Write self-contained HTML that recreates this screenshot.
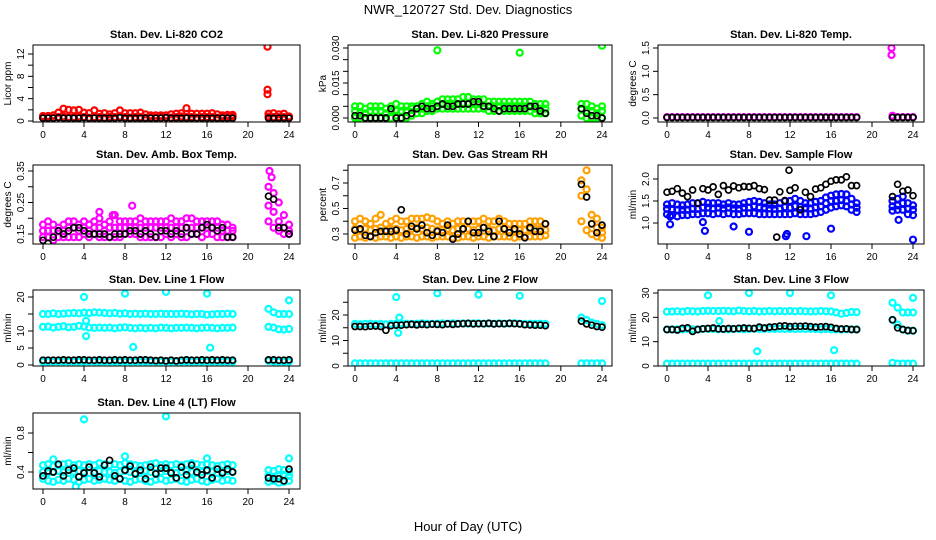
<!DOCTYPE html>
<html><head><meta charset="utf-8"><style>
html,body{margin:0;padding:0;background:#fff}
svg{display:block;font-family:"Liberation Sans",sans-serif}
</style></head><body>
<svg id="chart" width="936" height="540" viewBox="0 0 936 540" xmlns="http://www.w3.org/2000/svg">
<text x="468" y="14" font-size="13" text-anchor="middle">NWR_120727  Std. Dev. Diagnostics</text>
<text x="468" y="531" font-size="13" text-anchor="middle">Hour of Day (UTC)</text>
</svg>
<script>
const HRS=[0,0.5,1,1.5,2,2.5,3,3.5,4,4.5,5,5.5,6,6.5,7,7.5,8,8.5,9,9.5,10,10.5,11,11.5,12,12.5,13,13.5,14,14.5,15,15.5,16,16.5,17,17.5,18,18.5,22,22.5,23,23.5,24];
const xTicks=[0,4,8,12,16,20,24];
// P1 CO2
const co2Hi=[0.9,0.9,1.0,1.5,2.2,2.0,1.9,2.0,1.5,1.4,1.9,1.3,1.4,1.2,1.4,1.9,1.4,1.4,1.4,1.5,1.2,1.0,1.0,1.0,1.0,1.2,1.3,1.4,2.3,1.3,1.3,1.3,1.3,1.4,1.2,1.0,1.1,1.1,1.3,1.4,1.2,1.3,0.8];
const co2Lo=[0.6,0.7,0.6,0.7,0.8,0.7,0.7,0.8,0.7,0.6,0.7,0.7,0.6,0.7,0.7,0.8,0.7,0.6,0.7,0.7,0.6,0.7,0.6,0.7,0.6,0.6,0.7,0.8,0.7,0.7,0.6,0.7,0.7,0.7,0.6,0.7,0.7,0.8,0.8,0.7,0.7,0.7,0.6];
const co2Blk=[0.5,0.5,0.5,0.6,0.5,0.5,0.5,0.5,0.6,0.5,0.5,0.5,0.5,0.5,0.5,0.6,0.5,0.5,0.5,0.5,0.5,0.5,0.5,0.5,0.6,0.5,0.5,0.5,0.5,0.5,0.5,0.5,0.5,0.5,0.5,0.5,0.5,0.5,0.5,0.5,0.5,0.5,0.5];
const co2OutX=[21.9,21.9,21.9];const co2OutY=[13.3,5.6,4.8];
// P2 pressure
const prHi=[0.005,0.005,0.004,0.005,0.005,0.005,0.004,0.005,0.006,0.005,0.005,0.005,0.005,0.006,0.007,0.006,0.007,0.008,0.008,0.008,0.008,0.009,0.009,0.008,0.008,0.008,0.007,0.007,0.007,0.007,0.007,0.007,0.007,0.007,0.007,0.006,0.006,0.006,0.006,0.006,0.005,0.004,0.005];
const prMid=[0.003,0.002,0.002,0.003,0.003,0.003,0.002,0.003,0.003,0.003,0.003,0.004,0.004,0.004,0.005,0.005,0.005,0.006,0.006,0.006,0.006,0.006,0.006,0.006,0.006,0.005,0.005,0.005,0.005,0.005,0.005,0.005,0.005,0.005,0.005,0.004,0.004,0.004,0.004,0.003,0.003,0.002,0.003];
const prLo=[0.000,0.000,0.000,0.000,0.000,0.000,0.000,0.000,0.001,0.000,0.000,0.001,0.002,0.002,0.003,0.003,0.004,0.004,0.004,0.004,0.004,0.004,0.004,0.004,0.004,0.004,0.003,0.003,0.003,0.003,0.003,0.003,0.003,0.003,0.003,0.002,0.002,0.002,0.001,0.000,0.000,0.000,0.000];
const prBlk=[0.001,0.001,0.000,0.000,0.000,0.000,0.000,0.004,0.000,0.000,0.001,0.002,0.004,0.005,0.004,0.004,0.005,0.006,0.005,0.005,0.006,0.006,0.006,0.007,0.007,0.005,0.005,0.004,0.003,0.004,0.004,0.004,0.004,0.004,0.005,0.005,0.003,0.002,0.004,0.002,0.001,0.001,0.000];
const prOutX=[8,16,24];const prOutY=[0.029,0.028,0.031];
// P3 temp
const tmHi=[0.02,0.02,0.02,0.02,0.02,0.02,0.02,0.02,0.02,0.02,0.02,0.02,0.02,0.02,0.02,0.02,0.02,0.02,0.02,0.02,0.02,0.02,0.02,0.02,0.02,0.02,0.02,0.02,0.02,0.02,0.02,0.02,0.02,0.02,0.02,0.02,0.02,0.02,0.02,0.02,0.02,0.02,0.02];
const tmBlk=[0.01,0.01,0.01,0.01,0.01,0.01,0.01,0.01,0.01,0.01,0.01,0.01,0.01,0.01,0.01,0.01,0.01,0.01,0.01,0.01,0.01,0.01,0.01,0.01,0.01,0.01,0.01,0.01,0.01,0.01,0.01,0.01,0.01,0.01,0.01,0.01,0.01,0.01,0.01,0.01,0.01,0.01,0.01];
const tmOutX=[21.9,21.9,22];const tmOutY=[1.5,1.35,0.05];
// P4 box temp
const btHi=[0.18,0.19,0.18,0.17,0.18,0.19,0.19,0.18,0.19,0.18,0.19,0.20,0.18,0.19,0.21,0.19,0.19,0.19,0.19,0.20,0.19,0.19,0.19,0.19,0.19,0.20,0.19,0.19,0.20,0.20,0.19,0.19,0.19,0.19,0.19,0.18,0.18,0.17,0.30,0.28,0.25,0.21,0.18];
const btMid=[0.16,0.16,0.16,0.16,0.16,0.17,0.17,0.16,0.17,0.16,0.17,0.17,0.16,0.17,0.17,0.17,0.17,0.17,0.17,0.17,0.17,0.17,0.17,0.17,0.17,0.17,0.17,0.17,0.17,0.17,0.17,0.17,0.17,0.17,0.17,0.16,0.16,0.16,0.24,0.22,0.19,0.17,0.16];
const btLo=[0.14,0.14,0.13,0.14,0.14,0.14,0.14,0.14,0.15,0.14,0.15,0.14,0.14,0.14,0.14,0.14,0.15,0.15,0.15,0.14,0.14,0.14,0.14,0.14,0.15,0.14,0.15,0.14,0.14,0.15,0.15,0.14,0.15,0.15,0.14,0.14,0.14,0.14,0.19,0.17,0.16,0.15,0.15];
const btBlk=[0.13,0.12,0.14,0.16,0.15,0.16,0.17,0.17,0.16,0.15,0.15,0.15,0.15,0.14,0.15,0.15,0.15,0.16,0.16,0.15,0.16,0.15,0.14,0.16,0.16,0.15,0.16,0.15,0.17,0.15,0.15,0.17,0.18,0.17,0.16,0.17,0.14,0.14,0.27,0.26,0.17,0.17,0.15];
const btOutX=[22.1,22.3,5.5,8.7,6.8];const btOutY=[0.35,0.33,0.22,0.24,0.21];
// P5 RH
const rhHi=[0.40,0.42,0.40,0.38,0.42,0.45,0.38,0.40,0.42,0.40,0.40,0.42,0.42,0.42,0.43,0.42,0.40,0.38,0.40,0.38,0.40,0.40,0.40,0.40,0.40,0.42,0.40,0.40,0.42,0.40,0.38,0.38,0.38,0.38,0.40,0.40,0.40,0.38,0.72,0.80,0.45,0.42,0.35];
const rhMid=[0.34,0.33,0.34,0.33,0.34,0.35,0.33,0.34,0.34,0.33,0.34,0.34,0.35,0.34,0.35,0.34,0.33,0.33,0.34,0.33,0.34,0.34,0.34,0.33,0.34,0.35,0.34,0.33,0.34,0.34,0.33,0.33,0.33,0.33,0.34,0.34,0.34,0.33,0.60,0.65,0.38,0.35,0.31];
const rhLo=[0.27,0.28,0.27,0.28,0.27,0.28,0.28,0.27,0.28,0.27,0.28,0.28,0.27,0.28,0.28,0.27,0.28,0.28,0.28,0.27,0.27,0.28,0.28,0.27,0.28,0.28,0.27,0.28,0.28,0.28,0.28,0.27,0.28,0.28,0.28,0.28,0.28,0.29,0.40,0.33,0.30,0.28,0.27];
const rhBlk=[0.33,0.34,0.29,0.28,0.31,0.32,0.32,0.32,0.33,0.49,0.30,0.36,0.34,0.37,0.31,0.29,0.32,0.31,0.37,0.26,0.30,0.34,0.40,0.31,0.31,0.35,0.32,0.28,0.40,0.34,0.31,0.34,0.30,0.27,0.35,0.32,0.32,0.38,0.69,0.59,0.38,0.31,0.37];
// P6 sample flow
const sfHi=[1.42,1.45,1.42,1.40,1.42,1.45,1.45,1.48,1.45,1.45,1.45,1.42,1.45,1.42,1.42,1.45,1.48,1.50,1.48,1.45,1.42,1.42,1.45,1.50,1.50,1.55,1.50,1.45,1.45,1.48,1.50,1.58,1.62,1.65,1.66,1.65,1.55,1.45,1.50,1.55,1.60,1.45,1.40];
const sfMid=[1.32,1.30,1.30,1.30,1.30,1.32,1.32,1.35,1.35,1.33,1.35,1.33,1.35,1.33,1.32,1.35,1.35,1.38,1.36,1.35,1.33,1.32,1.33,1.36,1.35,1.38,1.36,1.35,1.33,1.36,1.38,1.45,1.50,1.50,1.52,1.50,1.42,1.35,1.38,1.40,1.45,1.32,1.30];
const sfLo=[1.20,1.18,1.15,1.18,1.18,1.20,1.20,1.22,1.22,1.20,1.22,1.20,1.22,1.20,1.20,1.22,1.22,1.22,1.20,1.20,1.20,1.20,1.20,1.20,1.20,1.22,1.20,1.20,1.20,1.22,1.25,1.30,1.35,1.38,1.40,1.38,1.30,1.25,1.28,1.30,1.30,1.20,1.18];
const sfBlk=[1.70,1.72,1.78,1.68,1.60,1.75,1.45,1.78,1.75,1.82,1.65,1.85,1.75,1.84,1.80,1.83,1.82,1.85,1.78,1.76,1.52,1.52,1.71,1.51,1.74,1.80,1.30,1.70,1.60,1.77,1.80,1.88,1.95,1.98,1.98,2.05,1.85,1.85,1.60,1.88,1.72,1.75,1.62];
const sfOutX=[0.3,0.3,3.5,3.7,6.5,8,11.6,11.7,13.6,16,24,22.6];const sfOutY=[1.15,0.97,1.02,0.82,0.92,0.80,0.70,0.75,0.70,0.87,0.62,1.07];
const sfBOutX=[10.7,11.9];const sfBOutY=[0.68,2.2];
// P7 line 1
const l1A=[15,15,15.2,15,15.1,15.2,15.3,15.2,15.4,15.3,15.5,15.4,15.3,15.2,15.3,15.1,15.2,15,15.1,15,15.1,15,15,15.1,15,15,15,15.1,15,14.9,15,15,14.8,14.9,15,15,15.1,15,16.5,15.5,15,15,15];
const l1B=[11.2,11.3,11,11.2,11.4,11.1,11.2,11.5,11.3,11,10.9,11,10.9,11,10.8,11,11.1,10.9,10.8,10.9,10.8,10.9,10.8,11,10.9,10.8,10.9,10.9,11,10.9,10.8,10.9,11,10.9,10.8,10.9,10.9,11,11.2,11,10.5,10.4,10.6];
const l1C=[1,1,1,1,1,1,1,1,1,1,1,1,1,1,1,1,1,1,1,1,1,1,1,1,1,1,1,1,1,1,1,1,1,1,1,1,1,1,1.2,1,1,1,1];
const l1Blk=[1.4,1.4,1.4,1.4,1.5,1.4,1.4,1.5,1.5,1.4,1.4,1.5,1.4,1.4,1.5,1.4,1.5,1.4,1.4,1.5,1.5,1.4,1.3,1.4,1.2,1.4,1.2,1.4,1.5,1.4,1.4,1.5,1.4,1.5,1.4,1.5,1.4,1.4,1.5,1.5,1.4,1.4,1.5];
const l1OutX=[4,8,12,16,24,8.8,16.3,4.2,4.2];const l1OutY=[20,21,21.5,21,19,5.3,5.1,8.5,13];
// P8 line 2
const l2A=[16.5,16.4,16.5,16.6,16.4,16.5,16.3,16.5,16.6,16.7,16.6,16.5,16.6,16.7,16.6,16.5,16.6,16.7,16.6,16.7,16.6,16.7,16.6,16.7,16.7,16.6,16.7,16.6,16.7,16.6,16.7,16.8,16.6,16.5,16.6,16.5,16.6,16.5,19,18,17,16.5,16];
const l2B=[1,1,1,1,1,1,1,1,1,1,1,1,1,1,1,1,1,1,1,1,1,1,1,1,1,1,1,1,1,1,1,1,1,1,1,1,1,1,1,1,1,1,1];
const l2Blk=[15.5,15.5,15.4,15.6,15.7,15.5,14,15.8,16,16,16.2,16.3,16.1,16.3,16.2,16.4,16.3,16.2,16.5,16.3,16.5,16.6,16.7,16.5,16.6,16.6,16.7,16.5,16.6,16.6,16.7,16.6,16.5,16.2,16.1,16,16,15.8,17.6,16.5,16,15.5,15.2];
const l2OutX=[4,8,12,16,24,4.2,4.3];const l2OutY=[27,28.5,28,27.5,25.5,13,19];
// P9 line 3
const l3A=[22.3,22.4,22.5,22.3,22.6,22.5,22.4,22.6,22.7,22.6,22.6,22.7,22.6,22.5,22.8,22.6,22.5,22.6,22.4,22.5,22.6,22.5,22.6,22.5,22.6,22.5,22.6,22.5,22.4,22.5,22.6,22.5,22.4,22,21.5,21.8,22.2,22.1,26,24,22,22,22];
const l3B=[15,15,15.1,15,15.2,15.1,15,15.2,15.3,15.2,15.1,15.2,15.1,15.2,15.2,15.1,15.2,15.3,15.2,15.3,15.3,15.2,15.3,15.2,15.3,15.2,15.3,15.2,15.3,15.2,15.1,15.2,15.1,15.1,15,15.1,15.1,15,19,17,15,14.5,14.5];
const l3C=[1,1,1,1,1,1,1,1,1,1,1,1,1,1,1,1,1,1,1,1,1,1,1,1,1,1,1,1,1,1,1,1,1,1,1,1,1,1,1.3,1,1,1,1];
const l3Blk=[15,15,14.8,15.5,15.7,14.2,15,15.3,15.4,15.6,15.3,15.2,15.4,15.3,15.5,15.6,15.5,15.4,16,15.6,16,16.1,16.4,16.5,16.2,16.3,16.3,16.4,16.2,16,16.1,16.2,15.9,15.4,15.2,15.3,15,15,19,15.7,15,14.6,14.5];
const l3OutX=[4,8,12,16,24,8.8,16.3,5.1];const l3OutY=[29,30,30,29,28,6,6.5,18.5];
// P10 line 4
const l4Hi=[0.47,0.48,0.46,0.47,0.48,0.49,0.47,0.48,0.47,0.48,0.47,0.49,0.48,0.47,0.48,0.47,0.49,0.48,0.47,0.46,0.47,0.48,0.49,0.47,0.48,0.47,0.48,0.47,0.48,0.49,0.48,0.47,0.48,0.47,0.46,0.47,0.48,0.47,0.42,0.41,0.43,0.42,0.40];
const l4Mid=[0.40,0.39,0.40,0.41,0.40,0.39,0.40,0.41,0.40,0.39,0.40,0.41,0.40,0.40,0.39,0.40,0.41,0.40,0.39,0.40,0.41,0.40,0.39,0.40,0.41,0.40,0.39,0.40,0.41,0.40,0.39,0.40,0.41,0.40,0.39,0.40,0.41,0.40,0.36,0.35,0.36,0.37,0.36];
const l4Lo=[0.33,0.31,0.30,0.32,0.31,0.33,0.32,0.30,0.32,0.33,0.31,0.32,0.33,0.32,0.31,0.33,0.31,0.30,0.32,0.33,0.31,0.30,0.32,0.33,0.31,0.32,0.33,0.31,0.30,0.32,0.33,0.31,0.30,0.32,0.33,0.31,0.32,0.31,0.30,0.31,0.29,0.30,0.31];
const l4Blk=[0.36,0.41,0.40,0.48,0.36,0.42,0.44,0.35,0.39,0.45,0.39,0.35,0.47,0.52,0.36,0.33,0.42,0.46,0.38,0.42,0.33,0.45,0.38,0.44,0.44,0.39,0.34,0.45,0.37,0.47,0.40,0.37,0.42,0.34,0.43,0.39,0.43,0.40,0.34,0.33,0.33,0.31,0.43];
const l4OutX=[4,12,1,8,16,24,3.2];const l4OutY=[0.94,0.97,0.53,0.56,0.54,0.54,0.25];

const NS="http://www.w3.org/2000/svg";
const svg=document.getElementById('chart');
function mk(tag,attrs,parent){const e=document.createElementNS(NS,tag);for(const k in attrs)e.setAttribute(k,attrs[k]);(parent||svg).appendChild(e);return e;}
const cols=[{l:33,r:300,x0:43,x24:289},{l:348,r:612,x0:355,x24:602},{l:658,r:924,x0:667,x24:913}];
const rows=[{t:45,b:122},{t:165,b:244},{t:290,b:366},{t:413,b:489}];
const C={red:'#ff0000',grn:'#00ff00',mag:'#ff00ff',org:'#ffa000',blu:'#0000ff',cya:'#00ffff',blk:'#000000'};
const panels=[
 {id:'co2',title:'Stan. Dev. Li-820 CO2',ylab:'Licor ppm',c:0,r:0,v1:0,p1:121,v2:12,p2:54,ticks:[0,2,4,6,8,10,12],labs:[0,4,8,12],fmt:0,
  series:[[HRS,co2Hi,'red'],[HRS,co2Lo,'red'],[co2OutX,co2OutY,'red'],[HRS,co2Blk,'blk']]},
 {id:'pressure',title:'Stan. Dev. Li-820 Pressure',ylab:'kPa',c:1,r:0,v1:0,p1:118,v2:0.03,p2:48,ticks:[0,0.005,0.01,0.015,0.02,0.025,0.03],labs:[0,0.015,0.03],fmt:3,
  series:[[HRS,prHi,'grn'],[HRS,prMid,'grn'],[HRS,prLo,'grn'],[prOutX,prOutY,'grn'],[HRS,prBlk,'blk']]},
 {id:'licor-temp',title:'Stan. Dev. Li-820 Temp.',ylab:'degrees C',c:2,r:0,v1:0,p1:118,v2:1.5,p2:48,ticks:[0,0.5,1,1.5],labs:[0,0.5,1,1.5],fmt:1,
  series:[[HRS,tmHi,'mag'],[tmOutX,tmOutY,'mag'],[HRS,tmBlk,'blk']]},
 {id:'box-temp',title:'Stan. Dev. Amb. Box Temp.',ylab:'degrees C',c:0,r:1,v1:0.15,p1:234,v2:0.35,p2:171,ticks:[0.15,0.2,0.25,0.3,0.35],labs:[0.15,0.25,0.35],fmt:2,
  series:[[HRS,btHi,'mag'],[HRS,btMid,'mag'],[HRS,btLo,'mag'],[btOutX,btOutY,'mag'],[HRS,btBlk,'blk']]},
 {id:'gas-rh',title:'Stan. Dev. Gas Stream RH',ylab:'percent',c:1,r:1,v1:0.3,p1:234,v2:0.7,p2:183,ticks:[0.3,0.4,0.5,0.6,0.7,0.8],labs:[0.3,0.5,0.7],fmt:1,
  series:[[HRS,rhHi,'org'],[HRS,rhMid,'org'],[HRS,rhLo,'org'],[HRS,rhBlk,'blk']]},
 {id:'sample-flow',title:'Stan. Dev. Sample Flow',ylab:'ml/min',c:2,r:1,v1:1,p1:223,v2:2,p2:179,ticks:[1,1.5,2],labs:[1,1.5,2],fmt:1,
  series:[[HRS,sfHi,'blu'],[HRS,sfMid,'blu'],[HRS,sfLo,'blu'],[sfOutX,sfOutY,'blu'],[HRS,sfBlk,'blk'],[sfBOutX,sfBOutY,'blk']]},
 {id:'line1',title:'Stan. Dev. Line 1 Flow',ylab:'ml/min',c:0,r:2,v1:0,p1:365,v2:20,p2:297,ticks:[0,5,10,15,20],labs:[0,5,10,20],fmt:0,
  series:[[HRS,l1A,'cya'],[HRS,l1B,'cya'],[HRS,l1C,'cya'],[l1OutX,l1OutY,'cya'],[HRS,l1Blk,'blk']]},
 {id:'line2',title:'Stan. Dev. Line 2 Flow',ylab:'ml/min',c:1,r:2,v1:0,p1:366,v2:20,p2:315,ticks:[0,5,10,15,20,25],labs:[0,10,20],fmt:0,
  series:[[HRS,l2A,'cya'],[HRS,l2B,'cya'],[l2OutX,l2OutY,'cya'],[HRS,l2Blk,'blk']]},
 {id:'line3',title:'Stan. Dev. Line 3 Flow',ylab:'ml/min',c:2,r:2,v1:0,p1:366,v2:30,p2:293,ticks:[0,10,20,30],labs:[0,10,20,30],fmt:0,
  series:[[HRS,l3A,'cya'],[HRS,l3B,'cya'],[HRS,l3C,'cya'],[l3OutX,l3OutY,'cya'],[HRS,l3Blk,'blk']]},
 {id:'line4',title:'Stan. Dev. Line 4 (LT) Flow',ylab:'ml/min',c:0,r:3,v1:0.4,p1:472,v2:0.8,p2:433,ticks:[0.4,0.6,0.8],labs:[0.4,0.8],fmt:1,
  series:[[HRS,l4Hi,'cya'],[HRS,l4Mid,'cya'],[HRS,l4Lo,'cya'],[l4OutX,l4OutY,'cya'],[HRS,l4Blk,'blk']]}
];
panels.forEach(p=>{
  const col=cols[p.c],row=rows[p.r];
  const xs=h=>col.x0+(col.x24-col.x0)*h/24;
  const ys=v=>p.p1+(p.p2-p.p1)*(v-p.v1)/(p.v2-p.v1);
  const g=mk('g',{});
  
  
  const clipId='clip-'+p.id;
  const cp=mk('clipPath',{id:clipId},g);mk('rect',{x:col.l,y:row.t,width:col.r-col.l,height:row.b-row.t},cp);
  const marks=mk('g',{'clip-path':'url(#'+clipId+')'},g);
  
  
  p.series.forEach(s=>{
    const X=s[0],Y=s[1];
    for(let i=0;i<Y.length;i++){
      const c=mk('circle',{cx:xs(X[i]).toFixed(1),cy:ys(Y[i]).toFixed(1),r:3,fill:'none',stroke:C[s[2]],'stroke-width':s[2]==='blk'?1.7:2.2},marks);
      
      
    }
  });
  const box=mk('rect',{x:col.l,y:row.t,width:col.r-col.l,height:row.b-row.t,fill:'none',stroke:'#000','stroke-width':1},g);
  
  
  const xa=mk('g',{},g);
  
  
  mk('line',{x1:xs(0),x2:xs(24),y1:row.b,y2:row.b,stroke:'#000'},xa);
  xTicks.forEach(t=>{
    mk('line',{x1:xs(t),x2:xs(t),y1:row.b,y2:row.b+5,stroke:'#000'},xa);
    const tx=mk('text',{x:xs(t),y:row.b+16,'font-size':10,'text-anchor':'middle'},xa);tx.textContent=t;
    
    
  });
  const ya=mk('g',{},g);
  
  
  mk('line',{x1:col.l,x2:col.l,y1:ys(p.ticks[0]),y2:ys(p.ticks[p.ticks.length-1]),stroke:'#000'},ya);
  p.ticks.forEach(t=>{mk('line',{x1:col.l-5,x2:col.l,y1:ys(t),y2:ys(t),stroke:'#000'},ya);});
  p.labs.forEach(t=>{
    const yy=ys(t),xx=col.l-9;
    const tx=mk('text',{x:xx,y:yy,'font-size':10,'text-anchor':'middle',transform:`rotate(-90 ${xx} ${yy})`},ya);
    tx.textContent=t.toFixed(p.fmt);
    
    
  });
  const cy=(row.t+row.b)/2,lx=col.l-22;
  const yl=mk('text',{x:lx,y:cy,'font-size':10,'text-anchor':'middle',transform:`rotate(-90 ${lx} ${cy})`},g);
  yl.textContent=p.ylab;
  
  
  const ti=mk('text',{x:(col.l+col.r)/2,y:row.t-7,'font-size':11,'font-weight':'bold','text-anchor':'middle'},g);
  ti.textContent=p.title;
  
  
});
</script>
</body></html>
